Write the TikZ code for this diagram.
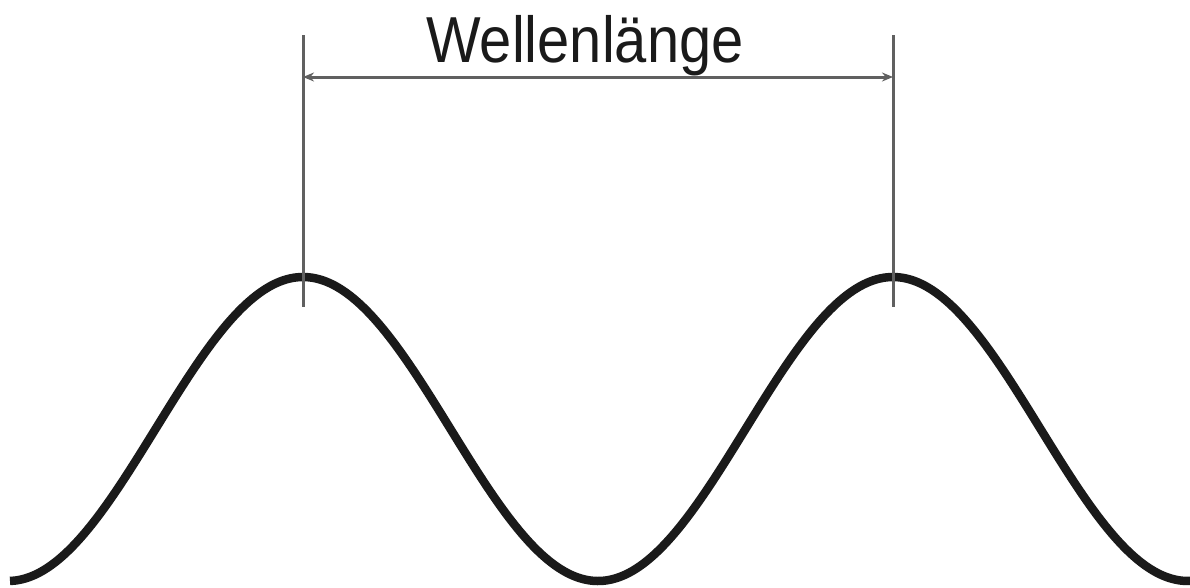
\documentclass[tikz,border=0pt]{standalone}
\usepackage{fontspec}
\setmainfont{Liberation Sans}
\usetikzlibrary{arrows.meta}
\definecolor{wave}{HTML}{1A1A1A}
\definecolor{guide}{HTML}{606060}
\tikzset{
  wavestyle/.style={draw=wave, line width=8.5pt},
  guideline/.style={draw=guide, line width=3pt},
  dimarrow/.style={draw=guide, line width=3pt, {Stealth[length=11pt,width=9pt]}-{Stealth[length=11pt,width=9pt]}},
  label/.style={font=\fontsize{65}{70}\selectfont, text=wave, inner sep=0pt}
}
\begin{document}
\begin{tikzpicture}[x=1pt,y=-1pt]
\useasboundingbox (0,0) rectangle (1190,587);
\coordinate (p1top) at (303,35);
\coordinate (p1bot) at (303,307);
\coordinate (p2top) at (893,35);
\coordinate (p2bot) at (893,307);
\coordinate (a1) at (303,77);
\coordinate (a2) at (893,77);
\draw[wavestyle] plot[domain=10:1190, samples=240, smooth] (\x, {429-152*cos(0.610169*(\x-303))});
\draw[guideline] (p1top) -- (p1bot);
\draw[guideline] (p2top) -- (p2bot);
\draw[dimarrow] (a1) -- (a2);
\node[label, anchor=base] (lbl) at (585,62) {\scalebox{0.89}[1]{Wellenlänge}};
\end{tikzpicture}
\end{document}
